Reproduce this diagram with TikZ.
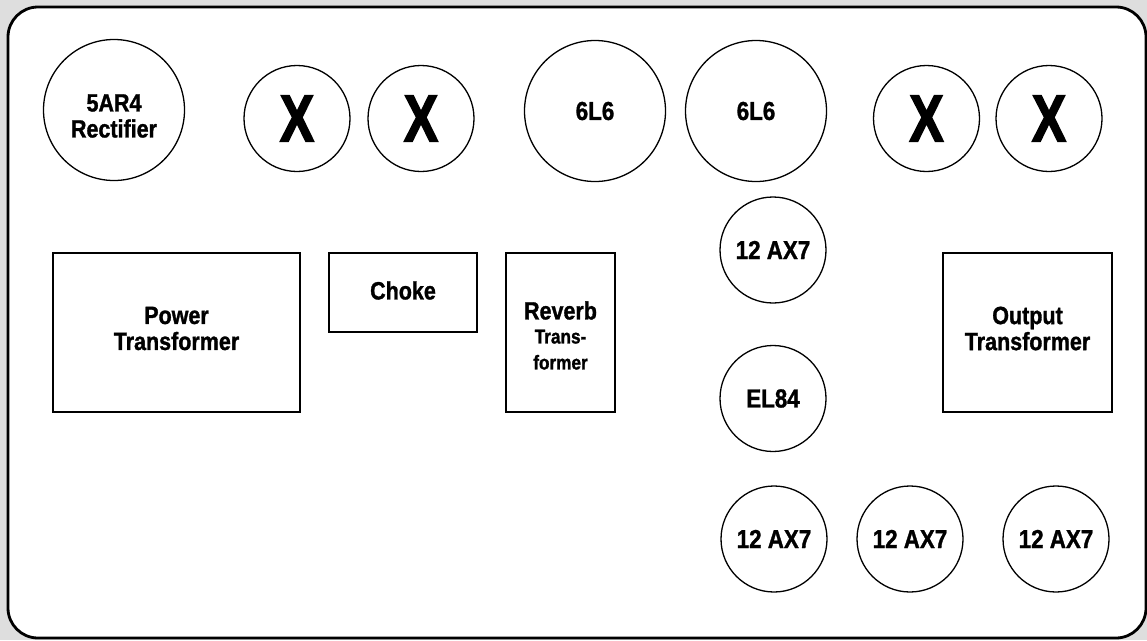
\documentclass[tikz,border=0pt]{standalone}
\usepackage{fontspec}
\usepackage{graphicx}
\newfontfamily\lbl[FakeStretch=0.86,FakeBold=1.2]{Liberation Sans Bold}
\newfontfamily\xfont[FakeStretch=0.86,FakeBold=2.5]{Liberation Sans Bold}
\definecolor{bggray}{RGB}{222,222,222}
\begin{document}
\begin{tikzpicture}[x=1pt,y=-1pt,
  tube/.style={circle,draw,line width=1.3pt,minimum size=#1,inner sep=0pt,
    font=\lbl\fontsize{26}{28}\selectfont,align=center},
  block/.style={rectangle,draw,line width=1.3pt,inner sep=0pt,
    font=\lbl\fontsize{25}{26}\selectfont,align=center},
  txt/.style={inner sep=0pt,font=\lbl\fontsize{25}{26}\selectfont,align=center},
  xm/.style={font=\xfont\fontsize{66}{66}\selectfont}]
\fill[bggray] (0,0) rectangle (1147,640);
\useasboundingbox (0,0) rectangle (1147,640);
\draw[line width=2.8pt,fill=white,rounded corners=30pt] (8,7) rectangle (1146,638);
% top row
\node[tube=141] (rect) at (114,110) {};
\node[txt] (rectlbl) at ([yshift=-6pt]rect.center) {5AR4\\Rectifier};
\node[tube=106,xm] (x1) at (297,118.5) {\scalebox{0.9}[1]{X}};
\node[tube=106,xm] (x2) at (421,118.5) {\scalebox{0.9}[1]{X}};
\node[tube=141] (pa) at (595,111) {6L6};
\node[tube=141] (pb) at (756,111) {6L6};
\node[tube=106,xm] (x3) at (926.5,118.5) {\scalebox{0.9}[1]{X}};
\node[tube=106,xm] (x4) at (1049,118.5) {\scalebox{0.9}[1]{X}};
% middle column
\node[tube=106] (ax1) at (773,250) {12 AX7};
\node[tube=106] (el) at (773,398.5) {EL84};
% bottom row
\node[tube=106] (ax2) at (774,539) {12 AX7};
\node[tube=106] (ax3) at (910,539) {12 AX7};
\node[tube=106] (ax4) at (1056,539) {12 AX7};
% transformers
\node[block,minimum width=247pt,minimum height=159pt] (pt) at (176.5,332.5) {};
\node[txt] (ptlbl) at ([yshift=4pt]pt.center) {Power\\Transformer};
\node[block,minimum width=148pt,minimum height=79pt] (ch) at (403,292.5) {};
\node[txt] (chlbl) at ([yshift=2pt]ch.center) {Choke};
\node[block,minimum width=109pt,minimum height=159pt] (rv) at (560.5,332.5) {};
\node[txt] (rvlbl) at ([yshift=-3pt]rv.center) {Reverb\\[-2pt]{\fontsize{20}{26}\selectfont Trans-}\\{\fontsize{20}{26}\selectfont former}};
\node[block,minimum width=169pt,minimum height=159pt] (ot) at (1027.5,332.5) {};
\node[txt] (otlbl) at ([yshift=4pt]ot.center) {Output\\Transformer};
\end{tikzpicture}
\end{document}
